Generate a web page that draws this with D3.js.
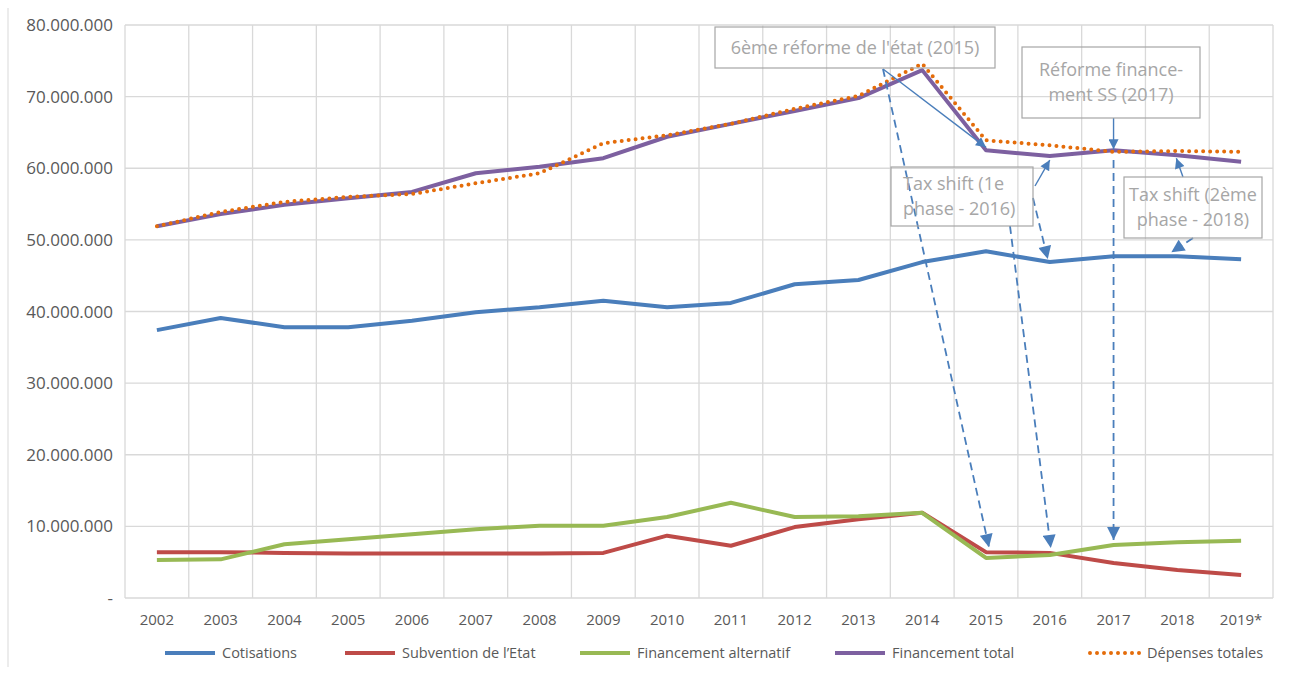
<!DOCTYPE html>
<html>
<head>
<meta charset="utf-8">
<script src="https://cdn.jsdelivr.net/npm/d3@7"></script>
<style>
  body { margin: 0; background: #fff; }
  text { font-family: "Open Sans", sans-serif; }
</style>
</head>
<body>
<script>
// Data
const years = ["2002","2003","2004","2005","2006","2007","2008","2009","2010","2011","2012","2013","2014","2015","2016","2017","2018","2019*"];
const cotisations = [37.4,39.1,37.8,37.8,38.7,39.9,40.6,41.5,40.6,41.2,43.8,44.4,46.9,48.4,46.9,47.7,47.7,47.3];
const subvention  = [6.4,6.4,6.3,6.2,6.2,6.2,6.2,6.3,8.7,7.3,9.9,11.0,11.9,6.4,6.3,4.9,3.9,3.2];
const financementAlt = [5.3,5.4,7.5,8.2,8.9,9.6,10.1,10.1,11.3,13.3,11.3,11.4,11.9,5.6,6.0,7.4,7.8,8.0];
const financementTotal = [51.9,53.6,54.9,55.8,56.7,59.3,60.2,61.4,64.4,66.2,68.0,69.8,73.7,62.5,61.7,62.5,61.8,60.9];
const depensesTotales = [51.9,53.9,55.3,56.0,56.4,57.9,59.3,63.5,64.6,66.2,68.3,70.1,74.6,63.9,63.2,62.3,62.4,62.3];
const yTicks = [0,10,20,30,40,50,60,70,80]; // millions

const series = [
  { name: "Cotisations", values: cotisations, color: "#4a7ebb" },
  { name: "Subvention de l\u2019Etat", values: subvention, color: "#be4b48" },
  { name: "Financement alternatif", values: financementAlt, color: "#98b954" },
  { name: "Financement total", values: financementTotal, color: "#7d60a0" },
  { name: "Dépenses totales", values: depensesTotales, color: "#e46c0a", dotted: true }
];

const W = 1291, H = 675;
const plot = { left: 125, right: 1273, top: 25, bottom: 598 };

const svg = d3.select("body").append("svg")
  .attr("width", W).attr("height", H);

const x = d3.scalePoint().domain(years).range([plot.left, plot.right]).padding(0.5);
const y = d3.scaleLinear().domain([0, 80]).range([plot.bottom, plot.top]);
const step = x.step();

// left border of chart area
svg.append("line").attr("x1", 8).attr("x2", 8).attr("y1", 8).attr("y2", H - 8)
  .attr("stroke", "#d9d9d9");

// gridlines
const grid = svg.append("g");
grid.selectAll(".hg").data(yTicks).join("line")
  .attr("x1", plot.left).attr("x2", plot.right)
  .attr("y1", d => y(d)).attr("y2", d => y(d))
  .attr("stroke", "#d9d9d9").attr("stroke-width", 1.3);
grid.selectAll(".vg").data(years.concat(["end"])).join("line")
  .attr("x1", (d, i) => plot.left + i * step).attr("x2", (d, i) => plot.left + i * step)
  .attr("y1", plot.top).attr("y2", plot.bottom)
  .attr("stroke", "#d9d9d9").attr("stroke-width", 1.3);

// y axis labels
const fmt = v => v === 0 ? "-" : d3.format(",")(v * 1e6).replace(/,/g, ".");
svg.append("g").selectAll("text").data(yTicks).join("text")
  .attr("x", 113).attr("y", d => y(d) + 6)
  .attr("text-anchor", "end")
  .attr("font-size", 17).attr("fill", "#595959")
  .text(fmt);

// x axis labels
svg.append("g").selectAll("text").data(years).join("text")
  .attr("x", d => x(d)).attr("y", 625)
  .attr("text-anchor", "middle")
  .attr("font-size", 15).attr("fill", "#595959")
  .text(d => d);

// lines
const line = d3.line().x((d, i) => x(years[i])).y(d => y(d));
series.forEach(s => {
  const p = svg.append("path")
    .datum(s.values)
    .attr("d", line)
    .attr("fill", "none")
    .attr("stroke", s.color)
    .attr("stroke-width", 4)
    .attr("stroke-linejoin", "round");
  if (s.dotted) p.attr("stroke-dasharray", "0,7").attr("stroke-linecap", "round");
});

// arrow markers
const defs = svg.append("defs");
defs.append("marker").attr("id", "arr")
  .attr("viewBox", "0 0 10 10").attr("refX", 10).attr("refY", 5)
  .attr("markerWidth", 11).attr("markerHeight", 10)
  .attr("markerUnits", "userSpaceOnUse")
  .attr("orient", "auto")
  .append("path").attr("d", "M0,0 L10,5 L0,10 z").attr("fill", "#4a7ebb");
defs.append("marker").attr("id", "arrL")
  .attr("viewBox", "0 0 10 10").attr("refX", 10).attr("refY", 5)
  .attr("markerWidth", 14).attr("markerHeight", 13)
  .attr("markerUnits", "userSpaceOnUse")
  .attr("orient", "auto")
  .append("path").attr("d", "M0,0 L10,5 L0,10 z").attr("fill", "#4a7ebb");

const idx = yr => years.indexOf(yr);
const arrows = [
  { x1: 883, y1: 69, x2: x("2015"), y2: y(financementTotal[idx("2015")]) - 3, dash: false },
  { x1: 883, y1: 69, x2: x("2015") + 3, y2: y(subvention[idx("2015")]) - 5, dash: true },
  { x1: 1035, y1: 186, x2: x("2016"), y2: y(financementTotal[idx("2016")]) + 4, dash: false },
  { x1: 1033, y1: 198, x2: x("2016") - 2, y2: y(cotisations[idx("2016")]) - 3, dash: true },
  { x1: 1010, y1: 226, x2: x("2016") + 1, y2: y(subvention[idx("2016")]) - 5, dash: true },
  { x1: x("2017"), y1: 118, x2: x("2017"), y2: y(financementTotal[idx("2017")]) - 1, dash: false },
  { x1: x("2017"), y1: 160, x2: x("2017"), y2: y(financementAlt[idx("2017")]) - 5, dash: true },
  { x1: 1183, y1: 177, x2: x("2018") - 1, y2: y(financementTotal[idx("2018")]) + 3, dash: false },
  { x1: 1193, y1: 238, x2: x("2018") - 6, y2: y(cotisations[idx("2018")]) - 4, dash: true }
];
svg.append("g").selectAll("line").data(arrows).join("line")
  .attr("x1", d => d.x1).attr("y1", d => d.y1)
  .attr("x2", d => d.x2).attr("y2", d => d.y2)
  .attr("stroke", "#4a7ebb")
  .attr("stroke-width", d => d.dash ? 1.8 : 1.4)
  .attr("stroke-dasharray", d => d.dash ? "8,5" : null)
  .attr("marker-end", d => d.dash ? "url(#arrL)" : "url(#arr)");

// annotation boxes
const boxes = [
  { x: 715, y: 27, w: 280, h: 41, lines: ["6ème réforme de l'état (2015)"], anchor: "middle" },
  { x: 1022, y: 47, w: 178, h: 71, lines: ["Réforme finance-", "ment SS (2017)"], anchor: "middle" },
  { x: 891, y: 167, w: 142, h: 59, lines: ["Tax shift (1e", "phase - 2016)"], anchor: "start" },
  { x: 1124, y: 177, w: 138, h: 61, lines: ["Tax shift (2ème", "phase - 2018)"], anchor: "middle" }
];
const bg = svg.append("g").selectAll("g").data(boxes).join("g");
bg.append("rect")
  .attr("x", d => d.x).attr("y", d => d.y).attr("width", d => d.w).attr("height", d => d.h)
  .attr("fill", "none").attr("stroke", "#a6a6a6").attr("stroke-width", 1.2);
bg.each(function(d) {
  const g = d3.select(this);
  const lh = 25;
  const y0 = d.y + d.h / 2 - (d.lines.length - 1) * lh / 2 + 6;
  d.lines.forEach((t, i) => {
    g.append("text")
      .attr("x", d.anchor === "start" ? d.x + 12 : d.x + d.w / 2)
      .attr("y", y0 + i * lh)
      .attr("text-anchor", d.anchor)
      .attr("font-size", 18).attr("fill", "#a6a6a6")
      .text(t);
  });
});

// legend
const legendX = [165, 345, 580, 835, 1090];
const lg = svg.append("g").selectAll("g").data(series).join("g")
  .attr("transform", (d, i) => `translate(${legendX[i]},653)`);
lg.append("line").attr("x1", 0).attr("x2", 50).attr("y1", 0).attr("y2", 0)
  .attr("stroke", d => d.color).attr("stroke-width", 4)
  .attr("stroke-dasharray", d => d.dotted ? "0,7" : null)
  .attr("stroke-linecap", d => d.dotted ? "round" : "butt");
lg.append("text").attr("x", 57).attr("y", 5)
  .attr("font-size", 14.5).attr("fill", "#595959")
  .text(d => d.name);
</script>
</body>
</html>
